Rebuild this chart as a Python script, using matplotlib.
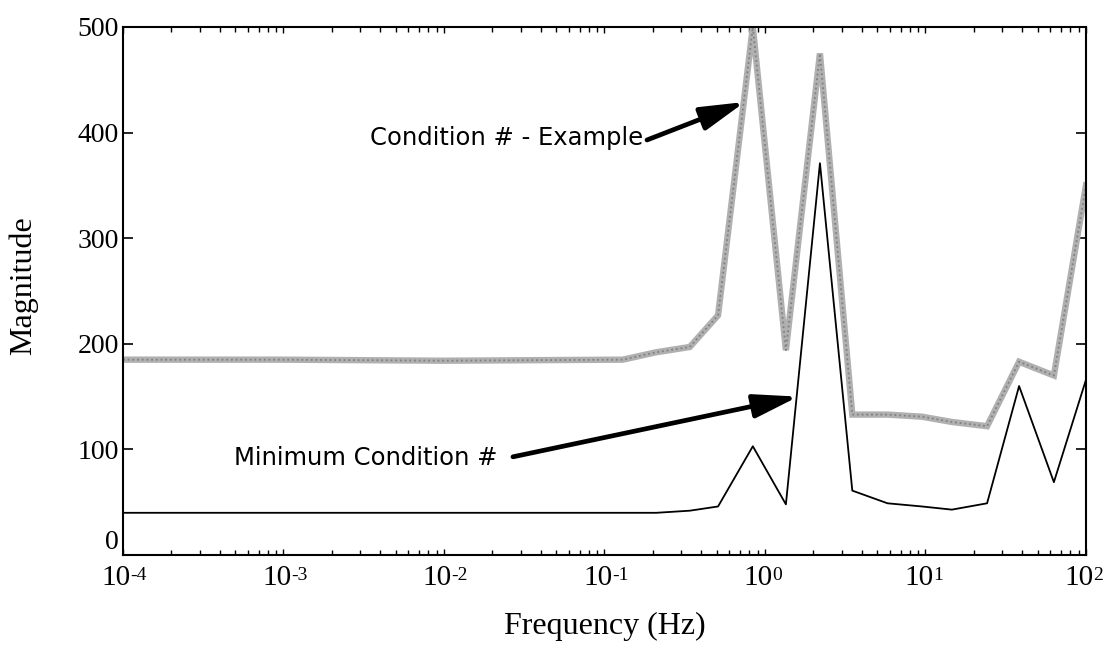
import matplotlib
matplotlib.use("Agg")
import matplotlib.pyplot as plt
from matplotlib.ticker import LogLocator, NullFormatter, FixedLocator

# ---- data ----
freq = [1e-4, 1e-3, 1e-2, 0.13, 0.21, 0.34, 0.51, 0.84, 1.35, 2.2, 3.5,
        5.8, 9.5, 14.6, 24.2, 38.3, 63.1, 100]
min_cond = [40, 40, 40, 40, 40, 42, 46, 103, 48, 371, 61,
            49, 46, 43, 49, 160, 69, 166]
example_cond = [185, 185, 184, 185, 192, 197, 227, 500, 194, 475, 133,
                133, 131, 126, 122, 183, 170, 350]
y_ticks = [0, 100, 200, 300, 400, 500]
x_decades = [-4, -3, -2, -1, 0, 1, 2]
label_example = "Condition # - Example"
label_min = "Minimum Condition #"

serif = ["Liberation Serif", "DejaVu Serif"]
sans = ["DejaVu Sans"]

fig = plt.figure(figsize=(11.12, 6.53), dpi=100)
ax = fig.add_axes([0.1106, 0.150, 0.8660, 0.8087])

# gray halftone-like line
ax.plot(freq, example_cond, color="#b0b0b0", lw=4.6, solid_joinstyle="miter",
        zorder=2, clip_on=True)
ax.plot(freq, example_cond, color="#808080", lw=1.3,
        linestyle=(0, (1, 1.6)), zorder=2.1, clip_on=True)
# black line
ax.plot(freq, min_cond, color="black", lw=1.3, zorder=3)

ax.set_xscale("log")
ax.set_xlim(1e-4, 1e2)
ax.set_ylim(0, 500)

for s in ax.spines.values():
    s.set_linewidth(1.5)

ax.yaxis.set_major_locator(FixedLocator(y_ticks))
ax.set_yticklabels([str(v) for v in y_ticks], fontfamily=serif, fontsize=20)
ax.tick_params(axis="y", which="major", direction="in", length=7, width=1.2,
               left=True, right=True, pad=3)
# the "0" label sits just above the x tick labels
ax.get_yticklabels()[0].set_verticalalignment("bottom")

ax.xaxis.set_major_locator(FixedLocator([10.0 ** d for d in x_decades]))
ax.xaxis.set_minor_locator(LogLocator(base=10, subs=range(2, 10), numticks=50))
ax.xaxis.set_minor_formatter(NullFormatter())
ax.set_xticklabels([""] * len(x_decades))
ax.tick_params(axis="x", which="both", direction="in", top=True, bottom=True,
               width=1.0)
ax.tick_params(axis="x", which="major", length=4.5)
ax.tick_params(axis="x", which="minor", length=3.5)

# x tick labels "10" with small exponent, drawn as text at each decade
for d in x_decades:
    xv = 10.0 ** d
    ax.annotate("10", xy=(xv, 0), xycoords=("data", "axes fraction"),
                xytext=(5.5, -7), textcoords="offset points",
                ha="right", va="top", fontsize=21, fontfamily=serif,
                annotation_clip=False)
    ax.annotate(str(d), xy=(xv, 0), xycoords=("data", "axes fraction"),
                xytext=(5.3, -8.5), textcoords="offset points",
                ha="left", va="top", fontsize=14, fontfamily=serif,
                annotation_clip=False)

ax.set_xlabel("Frequency (Hz)", fontfamily=serif, fontsize=23)
ax.xaxis.set_label_coords(0.5, -0.108)
ax.set_ylabel("Magnitude", fontfamily=serif, fontsize=23)
ax.yaxis.set_label_coords(-0.088, 0.51)

# annotations
ax.text(0.174, 395, label_example, ha="right", va="center",
        fontsize=17.5, fontfamily=sans, color="black")
ax.annotate("", xy=(0.75, 429), xytext=(0.184, 393),
            arrowprops=dict(arrowstyle="-|>,head_length=1.35,head_width=0.36",
                            mutation_scale=20, lw=3.4, color="black",
                            shrinkA=0, shrinkB=0))
ax.text(0.0214, 92, label_min, ha="right", va="center",
        fontsize=17.5, fontfamily=sans, color="black")
ax.annotate("", xy=(1.61, 150), xytext=(0.0269, 93),
            arrowprops=dict(arrowstyle="-|>,head_length=1.35,head_width=0.36",
                            mutation_scale=20, lw=3.4, color="black",
                            shrinkA=0, shrinkB=0))

fig.savefig("out.png", dpi=100)
